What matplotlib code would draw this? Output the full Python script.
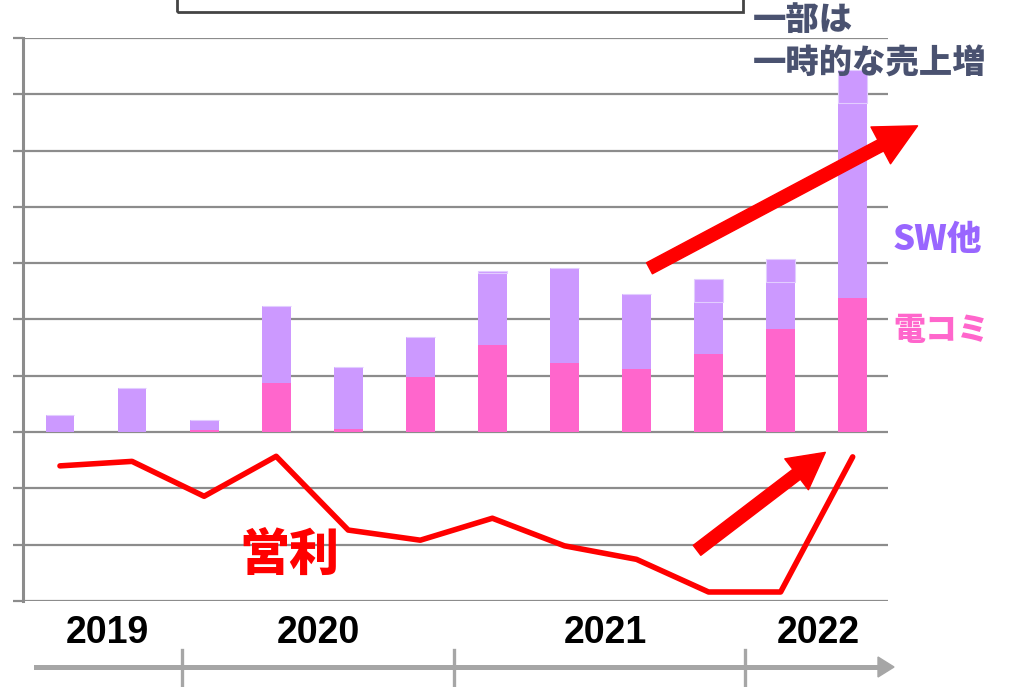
import matplotlib

matplotlib.use("Agg")
import matplotlib.pyplot as plt
from matplotlib.patches import FancyArrowPatch, Rectangle
from matplotlib.lines import Line2D

plt.rcParams["font.family"] = ["Noto Sans CJK JP", "DejaVu Sans"]

# 12 quarters, values in grid units (one gridline = 1)
denkomi = [0.0, 0.0, 0.03, 0.87, 0.06, 0.98, 1.55, 1.23, 1.12, 1.39, 1.83, 2.38]
sw_lower = [0.30, 0.78, 0.18, 1.37, 1.09, 0.71, 1.27, 1.68, 1.33, 0.92, 0.83, 3.46]
sw_upper = [0.0, 0.0, 0.0, 0.0, 0.0, 0.0, 0.04, 0.0, 0.0, 0.41, 0.41, 0.59]
eiri = [-0.60, -0.52, -1.14, -0.43, -1.74, -1.92, -1.53, -2.02, -2.26, -2.84, -2.84, -0.44]
years = ["2019", "2020", "2021", "2022"]
year_x_px = [107, 318, 605, 818]
year_tick_px = [182, 454, 745]

PINK = "#FF66CC"
PURPLE = "#CC99FF"
GRID = "#8c8c8c"
SLATE = "#4a5270"

W, H = 1011, 687
fig = plt.figure(figsize=(W / 100, H / 100), dpi=100)


def fx(px):
    return px / W


def fy(py):
    return 1 - py / H


ax = fig.add_axes([fx(23), fy(601), (888 - 23) / W, (601 - 38) / H])
x = list(range(len(denkomi)))
ax.set_xlim(-0.513, 11.49)
ax.set_ylim(-3, 7)

for yv in range(-3, 8):
    ax.axhline(yv, color=GRID, lw=1.6, zorder=1)

ax.bar(x, denkomi, width=0.40, color=PINK, zorder=2)
ax.bar(x, sw_lower, width=0.40, bottom=denkomi, color=PURPLE, zorder=2)
base3 = [d + s for d, s in zip(denkomi, sw_lower)]
ax.bar(x, sw_upper, width=0.40, bottom=base3, color=PURPLE,
       edgecolor="#e2cdff", linewidth=0.8, zorder=2)

ax.plot(x, eiri, color="#FF0000", lw=4, solid_capstyle="round", zorder=4)

for s in ["top", "right", "bottom"]:
    ax.spines[s].set_visible(False)
ax.spines["left"].set_color(GRID)
ax.spines["left"].set_linewidth(2.2)
ax.set_xticks([])
ax.set_yticks(range(-3, 8))
ax.set_yticklabels([])
ax.tick_params(axis="y", length=7, width=1.6, color=GRID)

# arrows
big = FancyArrowPatch((8.18, 2.91), (11.90, 5.44),
                      arrowstyle="simple,head_width=30,head_length=30,tail_width=9",
                      mutation_scale=1, color="#FF0000", shrinkA=0, shrinkB=0,
                      clip_on=False, zorder=5)
ax.add_patch(big)
small = FancyArrowPatch((8.84, -2.10), (10.62, -0.36),
                        arrowstyle="simple,head_width=28,head_length=26,tail_width=9",
                        mutation_scale=1, color="#FF0000", shrinkA=0, shrinkB=0,
                        clip_on=False, zorder=5)
ax.add_patch(small)

# labels
fig.text(fx(289), fy(555), "営利", color="#FF0000", fontsize=36, fontweight="black",
         ha="center", va="center")
fig.text(fx(893), fy(240), "SW他", color="#9966FF", fontsize=25, fontweight="black",
         ha="left", va="center")
fig.text(fx(893), fy(330), "電コミ", color=PINK, fontsize=23, fontweight="black",
         ha="left", va="center")
fig.text(fx(753), fy(19), "一部は", color=SLATE, fontsize=24, fontweight="black",
         ha="left", va="center")
fig.text(fx(753), fy(63), "一時的な売上増", color=SLATE, fontsize=24, fontweight="black",
         ha="left", va="center")

# title box cut at the top edge
fig.patches.append(Rectangle((fx(177), fy(12)), fx(743 - 177), fy(-20) - fy(12),
                             transform=fig.transFigure, fill=False,
                             edgecolor="#444444", lw=2))

# timeline
fig.add_artist(Line2D([fx(36), fx(880)], [fy(667), fy(667)], color="#a6a6a6",
                      lw=3.6, transform=fig.transFigure))
fig.patches.append(plt.Polygon([(fx(878), fy(657)), (fx(894), fy(667)), (fx(878), fy(677))],
                               closed=True, color="#a6a6a6", transform=fig.transFigure))
for tx in year_tick_px:
    fig.add_artist(Line2D([fx(tx), fx(tx)], [fy(650), fy(687)], color="#a6a6a6",
                          lw=2.4, transform=fig.transFigure))
for label, tx in zip(years, year_x_px):
    fig.text(fx(tx), fy(633), label, fontsize=27, fontweight="bold",
             family=["Liberation Sans", "DejaVu Sans"], ha="center", va="center")

fig.savefig("out.png", dpi=100)
